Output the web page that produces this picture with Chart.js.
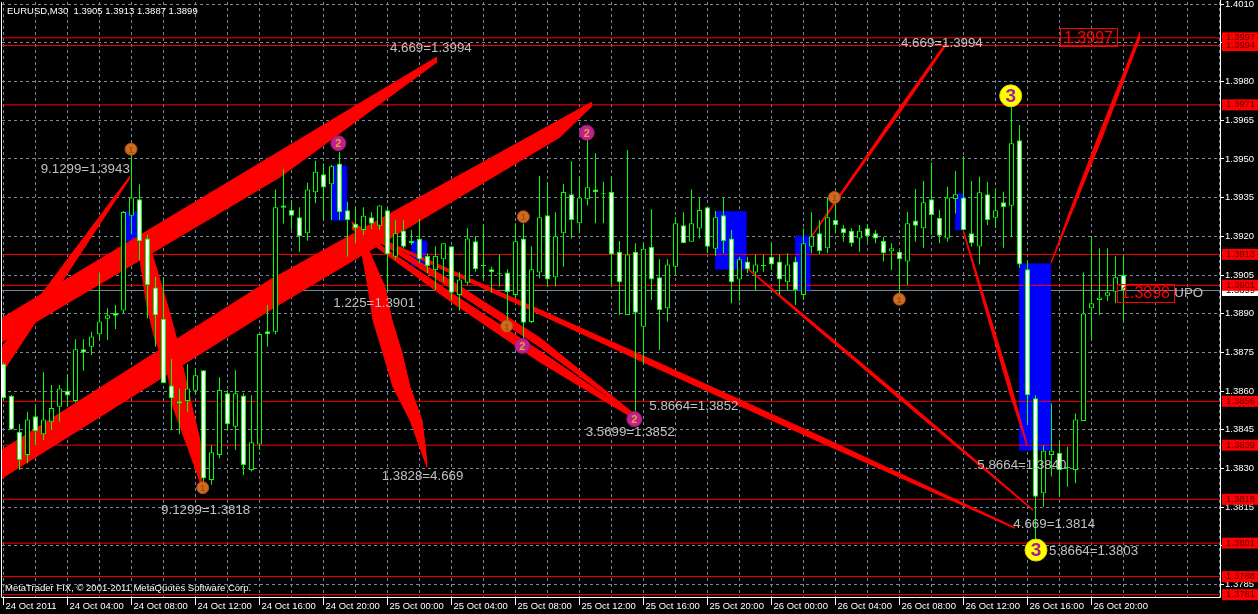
<!DOCTYPE html>
<html><head><meta charset="utf-8">
<script src="https://cdn.jsdelivr.net/npm/chart.js@4.4.0/dist/chart.umd.min.js"></script>
<style>html,body{margin:0;padding:0;background:#000;overflow:hidden}canvas{display:block}</style>
</head><body>
<canvas id="c" width="1258" height="614"></canvas>
<script>
// ---- candle data (EURUSD M30, bar 0 = 24 Oct 00:00) ----
const candleOpen = [1.38705,1.38582,1.38442,1.38352,1.38502,1.38432,1.38481,1.38539,1.38601,1.38561,
1.38762,1.38772,1.38820,1.38880,1.38903,1.38912,1.39280,1.39344,1.39192,1.39002,
1.38880,1.38621,1.38560,1.38561,1.38601,1.38681,1.38255,1.38352,1.38591,1.38461,
1.38583,1.38294,1.38393,1.38832,1.38830,1.39320,1.39302,1.39274,1.39212,1.39371,
1.39441,1.39402,1.39483,1.39301,1.39249,1.39225,1.39274,1.39241,1.39301,1.39121,
1.39223,1.39182,1.39192,1.39124,1.39069,1.39111,1.39162,1.38972,1.39020,1.39181,
1.39085,1.39072,1.39053,1.39060,1.38972,1.39192,1.38868,1.39060,1.39282,1.39041,
1.39212,1.39363,1.39251,1.39344,1.39382,1.39363,1.39372,1.39140,1.38895,1.39140,
1.38849,1.39160,1.39041,1.38921,1.39082,1.39243,1.39179,1.39230,1.39313,1.39152,
1.39282,1.39192,1.39033,1.39102,1.39060,1.39085,1.39121,1.39102,1.39022,1.39102,
1.38972,1.39160,1.39212,1.39154,1.39263,1.39231,1.39222,1.39192,1.39231,1.39212,
1.39182,1.39142,1.39140,1.39102,1.39261,1.39231,1.39344,1.39272,1.39192,1.39345,
1.39351,1.39212,1.39161,1.39363,1.39272,1.39332,1.39319,1.39573,1.39072,1.38572,
1.38203,1.38352,1.38361,1.38301,1.38294,1.38484,1.38921,1.38953,1.38970,1.38985,
1.3905];
const candleHigh = [1.38712,1.38585,1.38472,1.38520,1.38542,1.38673,1.38623,1.38623,1.38662,1.38801,
1.38801,1.38830,1.39060,1.38921,1.38934,1.39298,1.39535,1.39402,1.39205,1.39043,
1.39042,1.38724,1.38610,1.38705,1.38688,1.38681,1.38390,1.38653,1.38604,1.38681,
1.38591,1.38584,1.38821,1.38934,1.39382,1.39460,1.39340,1.39313,1.39408,1.39493,
1.39483,1.39477,1.39528,1.39334,1.39313,1.39313,1.39293,1.39321,1.39313,1.39263,
1.39263,1.39225,1.39267,1.39134,1.39162,1.39173,1.39162,1.39063,1.39231,1.39201,
1.39244,1.39082,1.39130,1.39072,1.39251,1.39251,1.39162,1.39434,1.39408,1.39293,
1.39403,1.39491,1.39434,1.39580,1.39522,1.39412,1.39429,1.39182,1.39535,1.39173,
1.39173,1.39305,1.39111,1.39111,1.39274,1.39293,1.39382,1.39350,1.39313,1.39298,
1.39350,1.39225,1.39121,1.39121,1.39130,1.39130,1.39173,1.39130,1.39134,1.39121,
1.39231,1.39293,1.39263,1.39351,1.39334,1.39244,1.39231,1.39244,1.39244,1.39225,
1.39198,1.39173,1.39147,1.39295,1.39384,1.39415,1.39486,1.39302,1.39392,1.39453,
1.39512,1.39415,1.39431,1.39412,1.39386,1.39373,1.39710,1.39632,1.39108,1.38584,
1.38390,1.38552,1.38410,1.38384,1.38513,1.39060,1.39198,1.39154,1.39154,1.39124,
1.3913];
const candleLow = [1.38565,1.38449,1.38294,1.38320,1.38391,1.38410,1.38449,1.38481,1.38539,1.38555,
1.38679,1.38740,1.38798,1.38798,1.38841,1.38901,1.39208,1.39108,1.38882,1.38772,
1.38630,1.38451,1.38432,1.38520,1.38591,1.38236,1.38236,1.38339,1.38449,1.38371,
1.38274,1.38288,1.38371,1.38772,1.38820,1.39250,1.39227,1.39140,1.39183,1.39328,
1.39263,1.39263,1.39263,1.39121,1.39173,1.39205,1.39228,1.39225,1.38992,1.39111,
1.39154,1.39166,1.39095,1.39057,1.38992,1.39024,1.38953,1.38911,1.39011,1.39063,
1.39031,1.38981,1.39005,1.38863,1.38960,1.38798,1.38863,1.39037,1.39005,1.39005,
1.39082,1.39192,1.39212,1.39320,1.39251,1.39251,1.39011,1.38895,1.38895,1.38514,
1.38704,1.38953,1.38759,1.38869,1.39050,1.39173,1.39179,1.39192,1.39134,1.39124,
1.39134,1.38940,1.38949,1.39057,1.38992,1.39063,1.39069,1.38972,1.38992,1.38934,
1.38953,1.39134,1.39130,1.39135,1.39212,1.39179,1.39160,1.39140,1.39179,1.39173,
1.39102,1.39069,1.38960,1.39011,1.39179,1.39154,1.39205,1.39173,1.39179,1.39289,
1.39225,1.39160,1.39091,1.39244,1.39231,1.39154,1.39198,1.39077,1.38468,1.38010,
1.38151,1.38268,1.38189,1.38229,1.38242,1.38484,1.38798,1.38895,1.38949,1.38940,
1.3887];
const candleClose = [1.38573,1.38451,1.38332,1.38490,1.38445,1.38490,1.38534,1.38610,1.38583,1.38762,
1.38749,1.38811,1.38870,1.38894,1.38892,1.39294,1.39351,1.39181,1.39011,1.38894,
1.38630,1.38572,1.38552,1.38610,1.38661,1.38261,1.38362,1.38604,1.38471,1.38591,
1.38313,1.38401,1.38821,1.38820,1.39313,1.39311,1.39280,1.39200,1.39382,1.39451,
1.39389,1.39472,1.39293,1.39263,1.39231,1.39280,1.39249,1.39320,1.39131,1.39212,
1.39160,1.39173,1.39111,1.39085,1.39124,1.39173,1.38981,1.39033,1.39192,1.39072,
1.39085,1.39062,1.39053,1.38984,1.39181,1.38865,1.39072,1.39274,1.39033,1.39200,
1.39372,1.39263,1.39351,1.39390,1.39371,1.39363,1.39130,1.39022,1.39130,1.38904,
1.39152,1.39033,1.38914,1.39091,1.39251,1.39173,1.39251,1.39302,1.39160,1.39274,
1.39182,1.39022,1.39111,1.39072,1.39091,1.39085,1.39091,1.39033,1.39091,1.38992,
1.39173,1.39200,1.39143,1.39274,1.39243,1.39212,1.39173,1.39222,1.39201,1.39192,
1.39134,1.39154,1.39111,1.39251,1.39241,1.39332,1.39283,1.39202,1.39351,1.39363,
1.39225,1.39173,1.39371,1.39263,1.39301,1.39314,1.39561,1.39091,1.38584,1.38190,
1.38368,1.38368,1.38294,1.38301,1.38490,1.38901,1.38940,1.38963,1.38983,1.39041,
1.3899];

// ---- axes ----
const xLabelBars = [0,8,16,24,32,40,48,56,64,72,80,88,96,104,112,120,128,136];
const xLabels = ['24 Oct 2011','24 Oct 04:00','24 Oct 08:00','24 Oct 12:00','24 Oct 16:00','24 Oct 20:00',
'25 Oct 00:00','25 Oct 04:00','25 Oct 08:00','25 Oct 12:00','25 Oct 16:00','25 Oct 20:00',
'26 Oct 00:00','26 Oct 04:00','26 Oct 08:00','26 Oct 12:00','26 Oct 16:00','26 Oct 20:00'];
const yTicks = [1.4010,1.3995,1.3980,1.3965,1.3950,1.3935,1.3920,1.3905,1.3890,1.3875,1.3860,1.3845,1.3830,1.3815,1.3800,1.3785];

// ---- horizontal levels ----
const redLevels = [1.3997,1.3994,1.3971,1.3913,1.3901,1.3856,1.3839,1.3818,1.3801,1.3788,1.3781];
const bidLevel = 1.3899;

// ---- red fan bands (upper / lower edges, [bar, price]) ----
const bandUpper = [
 [[-0.19,1.38771],[15.81,1.39434]],
 [[-0.19,1.38883],[54.19,1.39896]],
 [[-0.19,1.38371],[33.31,1.39031],[73.56,1.39721]],
 [[16.69,1.39186],[18.06,1.39186],[20.56,1.38926],[21.69,1.38798],[22.44,1.38692],[23.56,1.38538],[24.56,1.38410],[24.81,1.38224]],
 [[43.56,1.39256],[45.81,1.39135],[47.69,1.39003],[48.56,1.38875],[49.81,1.38747],[50.81,1.38616],[52.31,1.38487],[52.81,1.38359],[52.94,1.38305]],
 [[43.56,1.39256],[55.81,1.39031],[67.06,1.38806],[78.69,1.38515]],
 [[43.56,1.39240],[55.81,1.38984],[67.06,1.38755],[78.69,1.38507]],
 [[43.94,1.39236],[62.06,1.38984],[79.56,1.38742],[102.06,1.38425],[126.44,1.38071]],
 [[92.94,1.39079],[99.56,1.38908],[112.06,1.38583],[123.31,1.38284],[128.69,1.38140]],
 [[100.94,1.39199],[104.56,1.39364],[112.06,1.39702],[117.81,1.39952]],
 [[130.94,1.39098],[133.31,1.39298],[137.06,1.39605],[142.06,1.39993]],
 [[119.94,1.39228],[123.31,1.38891],[125.81,1.38635],[127.94,1.38394]]
];
const bandLower = [
 [[-0.19,1.38670],[15.81,1.39426]],
 [[-0.19,1.38790],[34.56,1.39430],[54.19,1.39876]],
 [[-0.19,1.38262],[33.31,1.38914],[69.56,1.39585],[73.56,1.39706]],
 [[16.69,1.39186],[17.94,1.38926],[18.94,1.38798],[20.44,1.38692],[21.19,1.38538],[22.69,1.38410],[24.19,1.38282],[24.81,1.38224]],
 [[43.56,1.39256],[44.81,1.39135],[45.56,1.39003],[46.19,1.38875],[47.44,1.38747],[48.69,1.38616],[50.81,1.38487],[52.31,1.38359],[52.94,1.38305]],
 [[43.56,1.39248],[55.81,1.39000],[67.06,1.38771],[78.69,1.38507]],
 [[43.56,1.39228],[55.81,1.38949],[67.06,1.38712],[78.69,1.38495]],
 [[43.94,1.39228],[62.06,1.38969],[79.56,1.38718],[102.06,1.38402],[126.44,1.38067]],
 [[92.94,1.39075],[99.56,1.38897],[112.06,1.38567],[123.31,1.38276],[128.69,1.38136]],
 [[100.94,1.39195],[104.56,1.39353],[112.06,1.39680],[117.81,1.39940]],
 [[130.94,1.39095],[133.31,1.39275],[137.06,1.39562],[142.06,1.39969]],
 [[119.94,1.39221],[123.31,1.38856],[125.81,1.38588],[127.94,1.38387]]
];

// ---- blue zones ----
const rectX0 = [15.31,40.94,50.94,88.94,98.94,118.94,126.94];
const rectX1 = [16.73,42.97,52.94,92.90,100.90,119.98,130.94];
const rectTop = [1.39295,1.39473,1.39182,1.39295,1.39201,1.39364,1.39093];
const rectBottom = [1.39182,1.39263,1.39085,1.39073,1.38992,1.39225,1.38371];

// ---- wave markers ----
const orangeX = [15.94,64.98,62.9,103.86,111.97,24.9];
const orangeY = [1.39538,1.39276,1.38852,1.39351,1.38956,1.38225];
const magentaX = [41.85,72.9,64.85,78.85];
const magentaY = [1.39561,1.39602,1.38775,1.38491];
const yellowX = [125.9,129.06];
const yellowY = [1.39745,1.37983];

// ---- text notes ----
const noteText = ['4.669=1.3994','9.1299=1.3943','1.225=1.3901','9.1299=1.3818','1.3828=4.669','5.8664=1.3852','3.5699=1.3852','4.669=1.3994','5.8664=1.3840','4.669=1.3814','5.8664=1.3803','UPO'];
const noteX = [48.31,4.65,41.23,19.7,47.27,80.73,72.77,112.19,121.73,126.23,130.69,146.35];
const noteY = [1.39930,1.39458,1.38940,1.38138,1.38270,1.38542,1.38440,1.39950,1.38312,1.38082,1.37979,1.38980];
const boxText = ['1.3997','1.3898'];
const boxX = [132.56,139.69];
const boxY = [1.3997,1.3898];

const titleText = 'EURUSD,M30  1.3905 1.3913 1.3887 1.3899';
const footText = 'MetaTrader FIX, \u00A9 2001-2011 MetaQuotes Software Corp.';

// ---------------------------------------------------------------
const FONT = '"Liberation Sans", Arial, sans-serif';
const datasets = [];
const bars = candleOpen.map((_, i) => i);

// blue rectangles (bottom)
rectX0.forEach((x0, k) => {
  const x1 = rectX1[k];
  datasets.push({type:'line', data:[{x:x0,y:rectTop[k]},{x:x1,y:rectTop[k]}], borderColor:'#0000FF', borderWidth:1, pointRadius:0, fill:false, order:60});
  datasets.push({type:'line', data:[{x:x0,y:rectBottom[k]},{x:x1,y:rectBottom[k]}], borderColor:'#0000FF', borderWidth:1, backgroundColor:'#0000FF', pointRadius:0, fill:'-1', order:60});
});
// bid line
datasets.push({type:'line', data:[{x:-1,y:bidLevel},{x:160,y:bidLevel}], borderColor:'#778899', borderWidth:1, pointRadius:0, fill:false, order:62});
// red bands
bandUpper.forEach((up, k) => {
  datasets.push({type:'line', data: up.map(p => ({x:p[0], y:p[1]})), borderColor:'#FF0000', borderWidth:1, pointRadius:0, fill:false, order:50});
  datasets.push({type:'line', data: bandLower[k].map(p => ({x:p[0], y:p[1]})), borderColor:'#FF0000', borderWidth:1, backgroundColor:'#FF0000', pointRadius:0, fill:'-1', order:50});
});
// red horizontal levels
redLevels.forEach(v => {
  datasets.push({type:'line', data:[{x:-1,y:v},{x:160,y:v}], borderColor:'#FF0000', borderWidth:1, pointRadius:0, fill:false, order:45});
});
// wicks
datasets.push({type:'bar', data: bars.map(i => ({x:i, y:[candleLow[i], candleHigh[i]]})),
  backgroundColor:'#00FF00', borderWidth:0, barThickness:1, grouped:false, inflateAmount:0, order:20});
// bodies
datasets.push({type:'bar', data: bars.map(i => ({x:i, y:[candleOpen[i], candleClose[i]]})),
  backgroundColor: bars.map(i => candleClose[i] < candleOpen[i] ? '#FFFFFF' : (candleClose[i] > candleOpen[i] ? '#000000' : '#00FF00')),
  borderColor:'#00FF00', borderWidth:1, borderSkipped:false, barThickness:5, minBarLength:1, grouped:false, inflateAmount:0, order:10});
// markers
datasets.push({type:'line', showLine:false, data: orangeX.map((x,k)=>({x, y:orangeY[k]})), pointRadius:6, pointBackgroundColor:'#D2691E', pointBorderColor:'#A8501A', pointBorderWidth:1, order:3});
datasets.push({type:'line', showLine:false, data: magentaX.map((x,k)=>({x, y:magentaY[k]})), pointRadius:7.5, pointBackgroundColor:'#C0208F', pointBorderColor:'#9A1872', pointBorderWidth:1, order:2});
datasets.push({type:'line', showLine:false, data: yellowX.map((x,k)=>({x, y:yellowY[k]})), pointRadius:11, pointBackgroundColor:'#FFFF00', pointBorderColor:'#E0D000', pointBorderWidth:1, order:1});

const overlay = {
  id: 'overlay',
  afterDatasetsDraw(chart) {
    const {ctx, chartArea: a} = chart;
    const xs = chart.scales.x, ys = chart.scales.y;
    ctx.save();
    ctx.beginPath(); ctx.rect(a.left, a.top, a.right - a.left, a.bottom - a.top); ctx.clip();
    ctx.textAlign = 'center'; ctx.textBaseline = 'middle';
    const nums = (xa, ya, t, font, col) => {
      ctx.font = font; ctx.fillStyle = col;
      xa.forEach((x, k) => ctx.fillText(t, xs.getPixelForValue(x), ys.getPixelForValue(ya[k]) + 1));
    };
    nums(orangeX, orangeY, '1', 'bold 9px ' + FONT, '#8A5A10');
    nums(magentaX, magentaY, '2', 'bold 11px ' + FONT, '#E8A030');
    nums(yellowX, yellowY, '3', 'bold 19px ' + FONT, '#A0209A');
    ctx.textAlign = 'left';
    ctx.font = '13.3px ' + FONT; ctx.fillStyle = '#C0C0C0';
    noteText.forEach((t, k) => ctx.fillText(t, xs.getPixelForValue(noteX[k]), ys.getPixelForValue(noteY[k])));
    ctx.font = '16px ' + FONT;
    boxText.forEach((t, k) => {
      const px = xs.getPixelForValue(boxX[k]), py = ys.getPixelForValue(boxY[k]);
      const w = ctx.measureText(t).width;
      ctx.strokeStyle = '#FF0000'; ctx.lineWidth = 1;
      ctx.strokeRect(Math.round(px - 4) + 0.5, Math.round(py - 9.5) + 0.5, Math.round(w + 8), 18);
      ctx.fillStyle = '#FF0000';
      ctx.fillText(t, px, py + 0.5);
    });
    ctx.restore();
  },
  afterDraw(chart) {
    const {ctx, chartArea: a} = chart;
    const ys = chart.scales.y;
    ctx.save();
    // frame
    ctx.strokeStyle = '#FFFFFF'; ctx.lineWidth = 1;
    ctx.beginPath();
    ctx.moveTo(a.left - 0.5, a.top); ctx.lineTo(a.left - 0.5, a.bottom + 0.5);
    ctx.lineTo(a.right + 0.5, a.bottom + 0.5); ctx.lineTo(a.right + 0.5, 0);
    ctx.stroke();
    // price boxes on right axis
    ctx.font = '9.5px ' + FONT; ctx.textAlign = 'left'; ctx.textBaseline = 'middle';
    const by = ys.getPixelForValue(bidLevel);
    ctx.fillStyle = '#FFFFFF'; ctx.fillRect(a.right + 2, by - 5.5, 36, 11);
    ctx.fillStyle = '#000000'; ctx.fillText(bidLevel.toFixed(4), a.right + 6, by);
    redLevels.forEach(v => {
      const py = ys.getPixelForValue(v);
      ctx.fillStyle = '#FF0000'; ctx.fillRect(a.right + 2, py - 5.5, 36, 11);
      ctx.fillStyle = '#5A0000'; ctx.fillText(v.toFixed(4), a.right + 6, py);
    });
    // title and footer
    ctx.fillStyle = '#FFFFFF';
    ctx.font = '9.5px ' + FONT;
    ctx.fillText(titleText, a.left + 5, a.top + 9);
    ctx.fillText(footText, a.left + 3, a.bottom - 9);
    ctx.restore();
  }
};

new Chart(document.getElementById('c'), {
  type: 'bar',
  data: { datasets },
  plugins: [overlay],
  options: {
    responsive: false, animation: false, devicePixelRatio: 1, events: [],
    layout: { autoPadding: false, padding: { left: 2, top: 2, right: 0, bottom: 0 } },
    plugins: { legend: { display: false }, tooltip: { enabled: false }, title: { display: false } },
    elements: { line: { tension: 0 } },
    scales: {
      x: {
        type: 'linear', min: -0.1875, max: 152.06, offset: false,
        afterBuildTicks: s => { const t = []; for (let b = 0; b <= 152; b += 4) t.push({ value: b }); s.ticks = t; },
        afterFit: s => { s.height = 17; s.paddingLeft = 0; s.paddingRight = 0; },
        ticks: {
          autoSkip: false, maxRotation: 0, minRotation: 0, align: 'start', labelOffset: 2, padding: -4,
          color: '#FFFFFF', font: { family: FONT, size: 9.5 },
          callback: v => { const k = xLabelBars.indexOf(v); return k < 0 ? '' : xLabels[k]; }
        },
        grid: { color: '#778899', lineWidth: 1, tickLength: 8, offset: false,
          tickColor: c => (c.tick && xLabelBars.includes(c.tick.value)) ? '#FFFFFF' : 'rgba(0,0,0,0)' },
        border: { display: false, dash: [3, 3] }
      },
      y: {
        type: 'linear', position: 'right', min: 1.37801, max: 1.40109, beginAtZero: false,
        afterBuildTicks: s => { s.ticks = yTicks.map(v => ({ value: v })); },
        afterFit: s => { s.width = 38; s.paddingTop = 0; s.paddingBottom = 0; },
        ticks: { autoSkip: false, padding: 1, color: '#FFFFFF', font: { family: FONT, size: 9.5 },
          callback: v => Number(v).toFixed(4) },
        grid: { color: '#778899', lineWidth: 1, tickLength: 4, tickColor: '#FFFFFF' },
        border: { display: false, dash: [3, 3] }
      }
    }
  }
});
</script>
</body></html>
